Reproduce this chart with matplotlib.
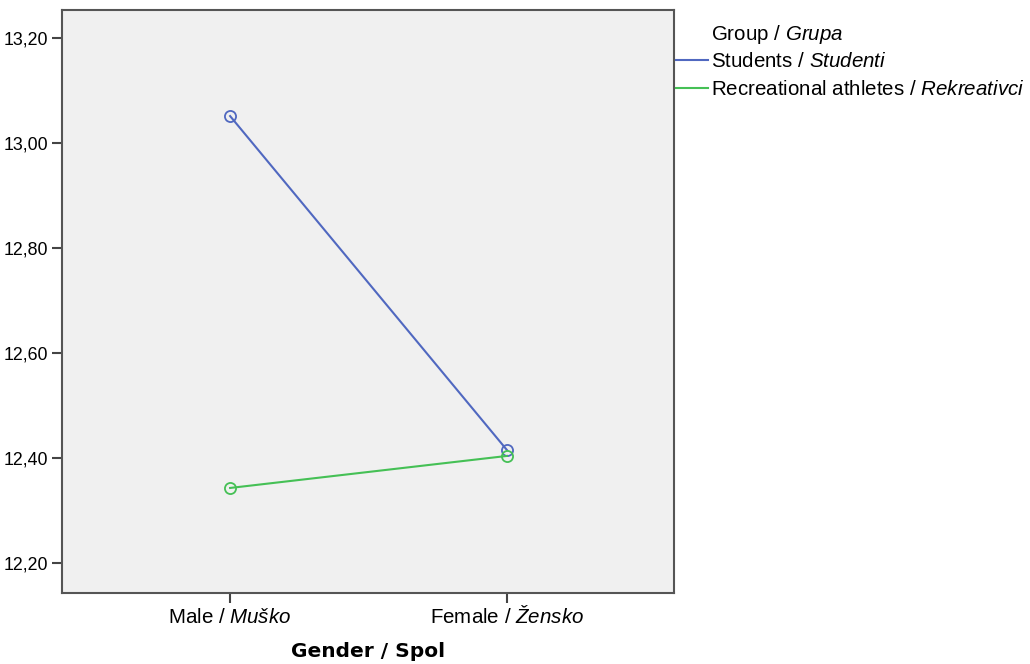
import matplotlib.pyplot as plt
from matplotlib.lines import Line2D

plt.rcParams['font.family'] = ['Liberation Sans', 'DejaVu Sans']
plt.rcParams['mathtext.fontset'] = 'custom'
plt.rcParams['mathtext.rm'] = 'Liberation Sans'
plt.rcParams['mathtext.it'] = 'Liberation Sans:italic'

# podaci
spol = ['Male / $\\mathit{Muško}$', 'Female / $\\mathit{Žensko}$']
studenti = [13.051, 12.415]
rekreativci = [12.343, 12.404]
y_ticks = [12.2, 12.4, 12.6, 12.8, 13.0, 13.2]
y_labels = ['12,20', '12,40', '12,60', '12,80', '13,00', '13,20']
grupe = ['Students / $\\mathit{Studenti}$', 'Recreational athletes / $\\mathit{Rekreativci}$']

plava = '#5068c0'
zelena = '#45c055'

fig = plt.figure(figsize=(10.3, 6.64), dpi=100)
ax = fig.add_axes([0.0602, 0.1069, 0.5942, 0.8781])
ax.set_facecolor('#f0f0f0')

x = list(range(len(spol)))
ax.plot(x, studenti, color=plava, lw=1.5, marker='o', ms=8, mfc='none', mec=plava, mew=1.3)
ax.plot(x, rekreativci, color=zelena, lw=1.5, marker='o', ms=8, mfc='none', mec=zelena, mew=1.3)

ax.set_xlim(-0.607, 1.603)
ax.set_ylim(12.143, 13.253)
ax.set_xticks(x)
ax.set_xticklabels(spol, fontsize=14.8)
ax.set_yticks(y_ticks)
ax.set_yticklabels(y_labels, fontsize=12.8)
ax.tick_params(axis='both', direction='out', length=7, width=1.5, color='#444444', pad=3)
ax.tick_params(axis='x', pad=14.5)
for t in ax.get_xticklabels():
    t.set_va('baseline')

for s in ax.spines.values():
    s.set_color('#555555')
    s.set_linewidth(1.5)

ax.set_xlabel('Gender / Spol', fontsize=14.5, fontweight='bold', family='DejaVu Sans', labelpad=11)

# legenda
fig.text(711 / 1030, 1 - 34 / 664, 'Group / $\\mathit{Grupa}$', fontsize=14.8, va='center', ha='left')
ruke = [Line2D([], [], color=plava, lw=1.5), Line2D([], [], color=zelena, lw=1.5)]
leg = fig.legend(ruke, grupe, loc='upper left',
                 bbox_to_anchor=(0.6565, 1 - 52 / 664), frameon=False, fontsize=14.8,
                 handlelength=1.55, handletextpad=0.15, labelspacing=0.45, borderaxespad=0,
                 borderpad=0)

fig.savefig('out.png', dpi=100)
